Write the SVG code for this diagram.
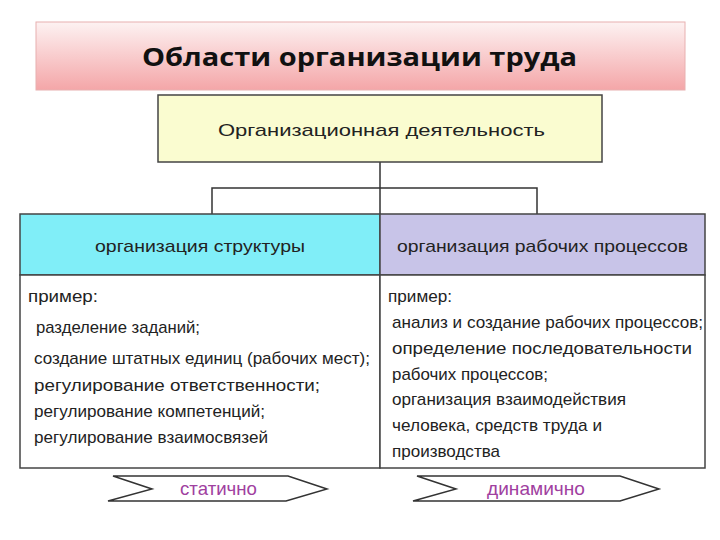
<svg xmlns="http://www.w3.org/2000/svg" width="720" height="540" viewBox="0 0 720 540">
<defs>
<linearGradient id="pk" x1="0" y1="0" x2="0" y2="1"><stop offset="0" stop-color="#fdf2f2"/><stop offset="1" stop-color="#f4a6a8"/></linearGradient>
<style>
.t{font-family:"Liberation Sans",Arial,sans-serif;font-size:17px;fill:#222}
.b{stroke:#444;stroke-width:1.5}
.c{fill:none;stroke:#333;stroke-width:1.5}
.m{font-family:"Liberation Sans",Arial,sans-serif;font-size:19px;fill:#a040a0}
</style>
</defs>
<rect width="720" height="540" fill="#fff"/>
<g id="title"><rect x="36" y="22" width="649" height="68" fill="url(#pk)" stroke="#e8b0b0"/>
<text x="142" y="66" textLength="435" lengthAdjust="spacingAndGlyphs" font-family="Open Sans,sans-serif" font-weight="bold" font-size="25" fill="#111">Области организации труда</text></g>
<g id="connectors"><path class="c" d="M380 162V214M212 214V188H537V214"/></g>
<g id="top"><rect x="158" y="95" width="444" height="67" fill="#fafcd0" class="b"/>
<text class="t" x="218" y="136" font-size="20" textLength="327" lengthAdjust="spacingAndGlyphs">Организационная деятельность</text></g>
<g id="left"><rect x="20" y="214" width="360" height="61" fill="#80eef8" class="b"/>
<text class="t" x="95" y="252" textLength="210" lengthAdjust="spacingAndGlyphs">организация  структуры</text>
<rect x="20" y="275" width="360" height="193" fill="#fff" class="b"/>
<text class="t" x="28" y="302" textLength="70" lengthAdjust="spacingAndGlyphs">пример:</text>
<text class="t" x="36" y="333" textLength="164" lengthAdjust="spacingAndGlyphs">разделение заданий;</text>
<text class="t" x="34" y="364" textLength="336" lengthAdjust="spacingAndGlyphs">создание штатных единиц (рабочих мест);</text>
<text class="t" x="34" y="391" textLength="286" lengthAdjust="spacingAndGlyphs">регулирование ответственности;</text>
<text class="t" x="34" y="417" textLength="231" lengthAdjust="spacingAndGlyphs">регулирование компетенций;</text>
<text class="t" x="34" y="443" textLength="234" lengthAdjust="spacingAndGlyphs">регулирование взаимосвязей</text></g>
<g id="right"><rect x="380" y="214" width="325" height="61" fill="#c8c4e8" class="b"/>
<text class="t" x="397" y="252" textLength="291" lengthAdjust="spacingAndGlyphs">организация  рабочих процессов</text>
<rect x="380" y="275" width="325" height="193" fill="#fff" class="b"/>
<text class="t" x="388" y="302" textLength="64" lengthAdjust="spacingAndGlyphs">пример:</text>
<text class="t" x="392" y="328" textLength="311" lengthAdjust="spacingAndGlyphs">анализ и создание рабочих процессов;</text>
<text class="t" x="392" y="354" textLength="300" lengthAdjust="spacingAndGlyphs">определение последовательности</text>
<text class="t" x="392" y="380" textLength="156" lengthAdjust="spacingAndGlyphs">рабочих процессов;</text>
<text class="t" x="392" y="405" textLength="234" lengthAdjust="spacingAndGlyphs">организация взаимодействия</text>
<text class="t" x="392" y="431" textLength="210" lengthAdjust="spacingAndGlyphs">человека, средств труда и</text>
<text class="t" x="392" y="457" textLength="108" lengthAdjust="spacingAndGlyphs">производства</text></g>
<g id="static"><path class="c" d="M113 476H288L327 489L286 501H108L152 489Z" stroke="#222"/><text class="m" x="180" y="495" textLength="77" lengthAdjust="spacingAndGlyphs">статично</text></g>
<g id="dynamic"><path class="c" d="M417 476H620L659 489L620 501H413L456 489Z" stroke="#222"/><text class="m" x="487" y="495" textLength="98" lengthAdjust="spacingAndGlyphs">динамично</text></g>
</svg>
